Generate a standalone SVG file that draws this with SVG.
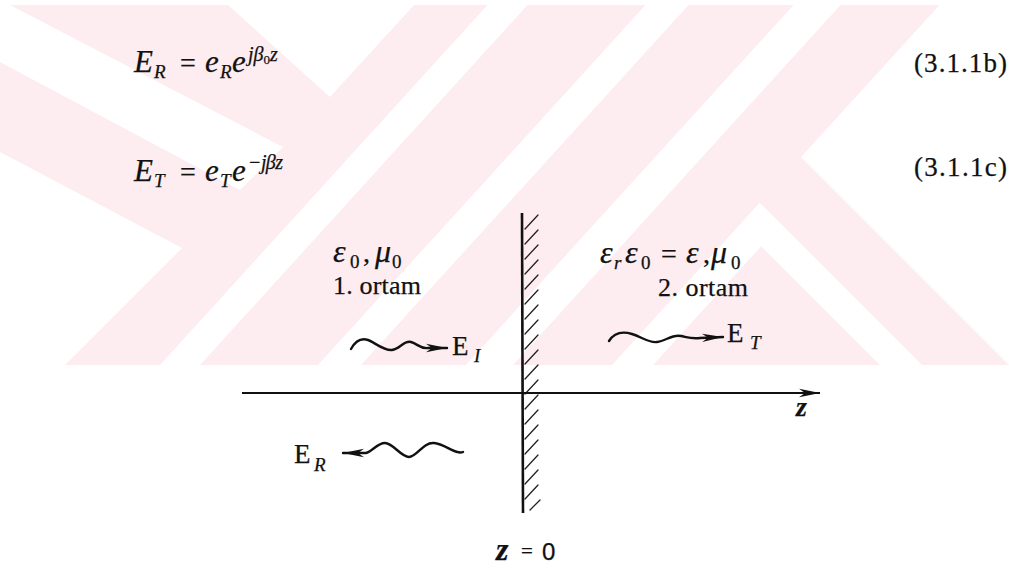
<svg xmlns="http://www.w3.org/2000/svg" width="1009" height="571" viewBox="0 0 1009 571">
<defs>
<style>
text{font-family:"Liberation Serif","Times New Roman",serif;fill:#111;stroke:#111;stroke-width:0.25;}
.it{font-style:italic;}
.eq{font-size:31px;}
.op{font-size:28px;}
.sub{font-size:19px;}
.sup{font-size:20px;font-style:italic;}
.gr{font-size:32px;font-style:italic;}
.lbl{font-size:27px;}
.num{font-size:27px;}
.ort{font-size:26px;}
.wm{fill:#fdedf0;}
.wh{fill:#fff;}
.wave{fill:none;stroke:#111;stroke-width:2.4;stroke-linecap:round;stroke-linejoin:round;}
.axis{fill:none;stroke:#111;stroke-width:2;}
.hatch{stroke:#222;stroke-width:1.3;stroke-linecap:round;}
</style>
<marker id="arr" markerUnits="userSpaceOnUse" viewBox="0 0 22 10" refX="21" refY="5" markerWidth="22" markerHeight="10" orient="auto">
<path d="M0,0.8 L21,5 L0,9.2 L6,5 Z" fill="#111"/>
</marker>
</defs>
<rect width="1009" height="571" fill="#fff"/>

<g id="watermark">
<rect class="wm" x="0" y="5" width="1009" height="360"/>
<polygon class="wh" points="0,5 10,5 283,147 240,190 0,62"/>
<polygon class="wh" points="0,152 182,248 65,365 0,365"/>
<polygon class="wh" points="228,5 414,5 330,97"/>
<polygon class="wh" points="487.5,5 527.5,5 200,365 160,365"/>
<polygon class="wh" points="645.5,5 688.5,5 361,365 318,365"/>
<polygon class="wh" points="793.5,5 840.5,5 513,365 466,365"/>
<polygon class="wh" points="939.5,5 1009,5 1009,365 801,157"/>
<polygon class="wh" points="612,365 759.7,202.7 922,365 880,365 761.2,246.2 653,365"/>
</g>

<g id="eq1">
<text class="eq it" x="134" y="72">E</text>
<text class="sub it" x="154" y="78">R</text>
<text class="op" x="180" y="72">=</text>
<text class="eq it" x="205" y="72">e</text>
<text class="sub it" x="220" y="78">R</text>
<text class="eq it" x="232" y="72">e</text>
<text class="sup" x="248" y="61">jβ<tspan font-size="13" font-style="normal" dy="3">0</tspan><tspan dy="-3">z</tspan></text>
<text class="num" x="914" y="72" textLength="93">(3.1.1b)</text>
</g>

<g id="eq2">
<text class="eq it" x="134" y="181">E</text>
<text class="sub it" x="154" y="187">T</text>
<text class="op" x="180" y="181">=</text>
<text class="eq it" x="205" y="181">e</text>
<text class="sub it" x="220" y="187">T</text>
<text class="eq it" x="232" y="181">e</text>
<text class="sup" x="248" y="169" textLength="35">−jβz</text>
<text class="num" x="914" y="176" textLength="93">(3.1.1c)</text>
</g>

<g id="boundary">
<line x1="522" y1="213" x2="523" y2="513" stroke="#111" stroke-width="2.6"/>
<g class="hatch">
<line x1="525" y1="229" x2="538" y2="215"/>
<line x1="525" y1="244" x2="538" y2="230"/>
<line x1="525" y1="259" x2="538" y2="245"/>
<line x1="525" y1="274" x2="538" y2="260"/>
<line x1="525" y1="289" x2="538" y2="275"/>
<line x1="525" y1="304" x2="538" y2="290"/>
<line x1="525" y1="319" x2="538" y2="305"/>
<line x1="525" y1="334" x2="538" y2="320"/>
<line x1="525" y1="349" x2="538" y2="335"/>
<line x1="525" y1="364" x2="538" y2="350"/>
<line x1="525" y1="379" x2="538" y2="365"/>
<line x1="525" y1="394" x2="538" y2="380"/>
<line x1="525" y1="409" x2="538" y2="395"/>
<line x1="525" y1="424" x2="538" y2="410"/>
<line x1="525" y1="439" x2="538" y2="425"/>
<line x1="525" y1="454" x2="538" y2="440"/>
<line x1="525" y1="469" x2="538" y2="455"/>
<line x1="525" y1="484" x2="538" y2="470"/>
<line x1="525" y1="499" x2="538" y2="485"/>
<line x1="530" y1="510" x2="540" y2="500"/>
</g>
</g>

<g id="medium1">
<text class="gr" x="333" y="262">ε</text>
<text class="sub" x="350" y="268">0</text>
<text class="op" x="363" y="262">,</text>
<text class="gr" x="375" y="262">μ</text>
<text class="sub" x="392" y="268">0</text>
<text class="ort" x="333" y="294" textLength="88">1. ortam</text>
</g>

<g id="medium2">
<text class="gr" x="600" y="263">ε</text>
<text class="sub it" x="614" y="269">r</text>
<text class="gr" x="625" y="263">ε</text>
<text class="sub" x="641" y="269">0</text>
<text class="op" x="661" y="263">=</text>
<text class="gr" x="686" y="263">ε</text>
<text class="op" x="703" y="263">,</text>
<text class="gr" x="711" y="263">μ</text>
<text class="sub" x="731" y="269">0</text>
<text class="ort" x="658" y="296" textLength="90">2. ortam</text>
</g>

<g id="labels">
<text class="lbl" x="452" y="355">E</text><text class="sub it" x="474" y="362">I</text>
<text class="lbl" x="727" y="342">E</text><text class="sub it" x="750" y="349">T</text>
<text class="lbl" x="294" y="463">E</text><text class="sub it" x="314" y="471">R</text>
<text x="796" y="416" font-size="28" font-style="italic" font-weight="bold">z</text>
<text x="496" y="560" font-size="32" font-style="italic" font-weight="bold">z</text>
<text x="521" y="558" font-size="21">=</text>
<text x="542" y="560" font-size="24" style="font-family:'Liberation Sans',Arial,sans-serif">0</text>
</g>

<g id="connectors">
<line class="axis" x1="242" y1="393" x2="820" y2="393" marker-end="url(#arr)"/>
<path class="wave" d="M351,349 C356,340 362,338 368,340 S384,351 392,350 S404,340 411,342 S420,349 428,348 L447,348" marker-end="url(#arr)"/>
<path class="wave" d="M609,341 C614,333 622,331 632,334 S648,343 657,342 S672,334 681,336 S692,339 700,338 L723,337" marker-end="url(#arr)"/>
<path class="wave" d="M463,452 C456,455 445,444 434,443 S417,457 409,457 S393,443 385,443 S372,452 366,453 L343,453" marker-end="url(#arr)"/>
</g>
</svg>
